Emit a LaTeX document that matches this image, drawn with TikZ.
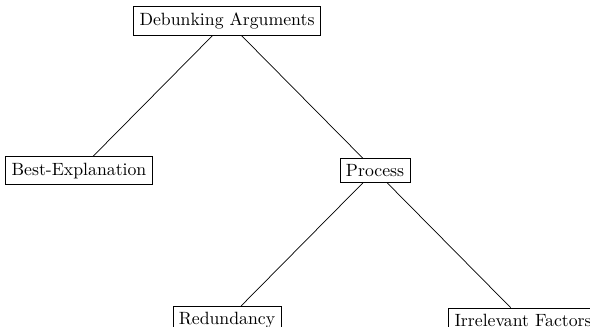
\documentclass[tikz,border=0pt]{standalone}
\begin{document}
\begin{tikzpicture}[x=1pt, y=1pt, level distance=84.3pt,
  level 1/.style={sibling distance=166.8pt},
  level 2/.style={sibling distance=166.8pt},
  box/.style={rectangle, draw}]
  \useasboundingbox (-127.9,11.8) rectangle (204.5,-171.9);
  \node[box] (debunk) {Debunking Arguments}
    child {node[box] (best) {Best-Explanation}}
    child {node[box] (proc) {Process}
      child {node[box] (redund) {Redundancy}}
      child {node[box] (irrel) {Irrelevant Factors}}
    };
\end{tikzpicture}
\end{document}
